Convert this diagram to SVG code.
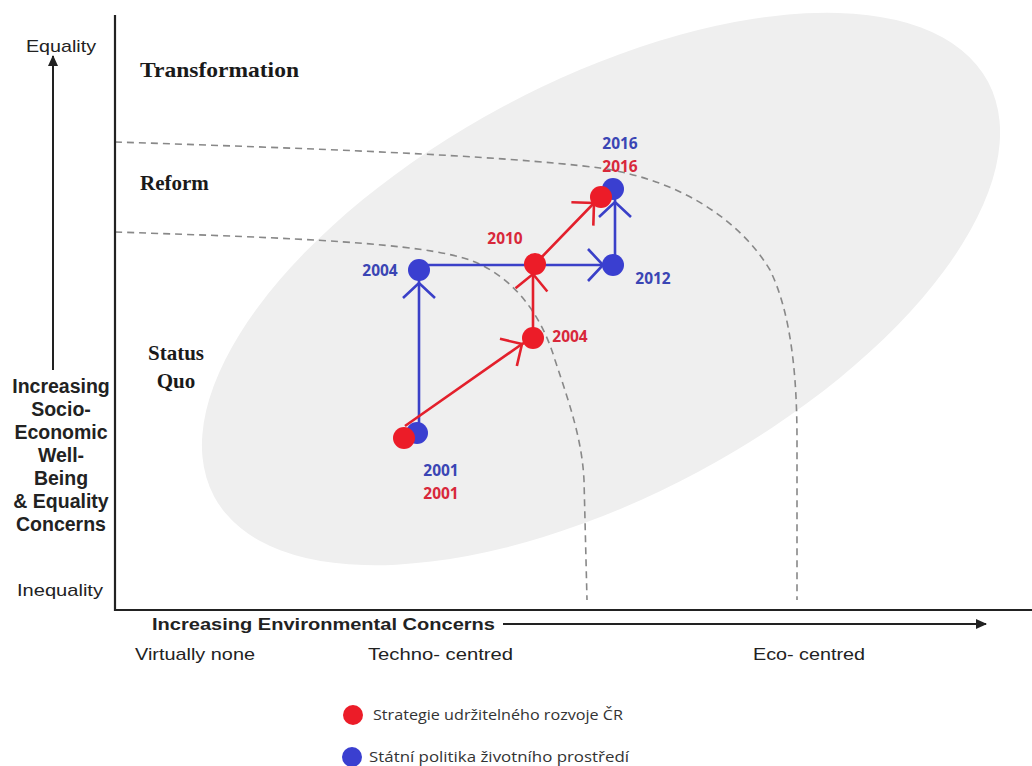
<svg xmlns="http://www.w3.org/2000/svg" width="1032" height="766" viewBox="0 0 1032 766">
<defs>
<style>
.ax{stroke:#222;stroke-width:2.2;fill:none}
.dash{stroke:#888;stroke-width:1.6;fill:none;stroke-dasharray:7 5}
.zone{font-family:"Liberation Serif",serif;font-weight:bold;font-size:21px;fill:#1a1a1a}
.lab{font-family:"Liberation Sans",Arial,sans-serif;font-size:17px;fill:#222}
.labb{font-family:"Liberation Sans",Arial,sans-serif;font-weight:bold;font-size:19.5px;fill:#222;text-anchor:middle}
.yb{font-family:"Open Sans","Liberation Sans",sans-serif;font-weight:bold;font-size:15.5px;fill:#3a45b4;text-anchor:middle}
.yr{font-family:"Open Sans","Liberation Sans",sans-serif;font-weight:bold;font-size:15.5px;fill:#d8283a;text-anchor:middle}
.lb{stroke:#3a40c8;stroke-width:2.6;fill:none}
.lr{stroke:#e3202c;stroke-width:2.6;fill:none}
.db{fill:#3a3fd0}
.dr{fill:#ec1c28}
.leg{font-family:"Open Sans","Liberation Sans",sans-serif;font-size:14.5px;fill:#333}
</style>
<marker id="cb" markerUnits="userSpaceOnUse" markerWidth="44" markerHeight="44" refX="22" refY="22" orient="auto" viewBox="0 0 44 44">
<path d="M7,6 L22,22 L7,38" stroke="#3a40c8" stroke-width="2.6" fill="none"/>
</marker>
<marker id="cr" markerUnits="userSpaceOnUse" markerWidth="44" markerHeight="44" refX="22" refY="22" orient="auto" viewBox="0 0 44 44">
<path d="M6,6 L22,22 L6,38" stroke="#e3202c" stroke-width="2.6" fill="none"/>
</marker>
<marker id="ah" markerUnits="userSpaceOnUse" markerWidth="14" markerHeight="12" refX="10" refY="6" orient="auto" viewBox="0 0 14 12">
<path d="M0,1 L11,6 L0,11 Z" fill="#222"/>
</marker>
</defs>
<rect width="1032" height="766" fill="#ffffff"/>
<g id="ellipse">
<ellipse cx="601" cy="289" rx="439" ry="207" transform="rotate(-28.2 601 289)" fill="#efefef"/>
</g>
<g id="boundaries">
<path class="dash" d="M115,142 C300,148 500,155 600,168 C680,180 740,220 770,270 C792,315 797,380 797,440 L797,600"/>
<path class="dash" d="M115,232 C300,238 420,243 470,260 C510,275 540,310 555,360 C570,405 582,440 584,480 L587,600"/>
</g>
<g id="axes">
<line class="ax" x1="115" y1="15" x2="115" y2="611"/>
<line class="ax" x1="114" y1="610" x2="1032" y2="610"/>
<line class="ax" x1="53" y1="370" x2="53" y2="56" marker-end="url(#ah)" style="stroke-width:2"/>
<line class="ax" x1="503" y1="624" x2="986" y2="624" marker-end="url(#ah)" style="stroke-width:2"/>
</g>
<g id="y-labels">
<text class="lab" x="26" y="52" textLength="70" lengthAdjust="spacingAndGlyphs">Equality</text>
<text class="lab" x="17" y="596" textLength="86" lengthAdjust="spacingAndGlyphs">Inequality</text>
<text class="labb" x="61" y="393">Increasing</text>
<text class="labb" x="61" y="416">Socio-</text>
<text class="labb" x="61" y="439">Economic</text>
<text class="labb" x="61" y="462">Well-</text>
<text class="labb" x="61" y="485">Being</text>
<text class="labb" x="61" y="508">&amp; Equality</text>
<text class="labb" x="61" y="531">Concerns</text>
</g>
<g id="x-labels">
<text class="lab" x="152" y="630" font-weight="bold" textLength="343" lengthAdjust="spacingAndGlyphs">Increasing Environmental Concerns</text>
<text class="lab" x="135" y="660" textLength="120" lengthAdjust="spacingAndGlyphs">Virtually none</text>
<text class="lab" x="368" y="660" textLength="145" lengthAdjust="spacingAndGlyphs">Techno- centred</text>
<text class="lab" x="753" y="660" textLength="112" lengthAdjust="spacingAndGlyphs">Eco- centred</text>
</g>
<g id="zones">
<text class="zone" x="140" y="77" textLength="159" lengthAdjust="spacingAndGlyphs">Transformation</text>
<text class="zone" x="140" y="190">Reform</text>
<text class="zone" x="176" y="360" text-anchor="middle">Status</text>
<text class="zone" x="176" y="388" text-anchor="middle">Quo</text>
</g>
<g id="connectors">
<polyline class="lb" points="419,433 419,283 419,270" marker-mid="url(#cb)"/>
<polyline class="lb" points="419,265 603,265 613,265" marker-mid="url(#cb)"/>
<polyline class="lb" points="615,265 615,202 615,190" marker-mid="url(#cb)"/>
<polyline class="lr" points="405,426 522,344 533,338" marker-mid="url(#cr)"/>
<polyline class="lr" points="533,338 533,274 535,264" marker-mid="url(#cr)"/>
<polyline class="lr" points="535,264 594,203 601,197" marker-mid="url(#cr)"/>
</g>
<g id="n-blue-2001"><circle class="db" cx="417" cy="433" r="11"/></g>
<g id="n-red-2001"><circle class="dr" cx="404" cy="438" r="11"/></g>
<g id="n-blue-2004"><circle class="db" cx="419" cy="270" r="11"/></g>
<g id="n-red-2004"><circle class="dr" cx="533" cy="338" r="11"/></g>
<g id="n-red-2010"><circle class="dr" cx="535" cy="264" r="11"/></g>
<g id="n-blue-2012"><circle class="db" cx="613" cy="265" r="11"/></g>
<g id="n-blue-2016"><circle class="db" cx="613" cy="189" r="11"/></g>
<g id="n-red-2016"><circle class="dr" cx="601" cy="197" r="11"/></g>
<g id="year-labels">
<text class="yb" x="620" y="149">2016</text>
<text class="yr" x="620" y="172">2016</text>
<text class="yr" x="505" y="244">2010</text>
<text class="yb" x="380" y="276">2004</text>
<text class="yb" x="653" y="284">2012</text>
<text class="yr" x="570" y="342">2004</text>
<text class="yb" x="441" y="476">2001</text>
<text class="yr" x="441" y="499">2001</text>
</g>
<g id="legend">
<circle class="dr" cx="353" cy="715" r="10"/>
<text class="leg" x="373" y="720" textLength="250" lengthAdjust="spacingAndGlyphs">Strategie udržitelného rozvoje ČR</text>
<circle class="db" cx="352" cy="757" r="10"/>
<text class="leg" x="369" y="762" textLength="260" lengthAdjust="spacingAndGlyphs">Státní politika životního prostředí</text>
</g>
</svg>
